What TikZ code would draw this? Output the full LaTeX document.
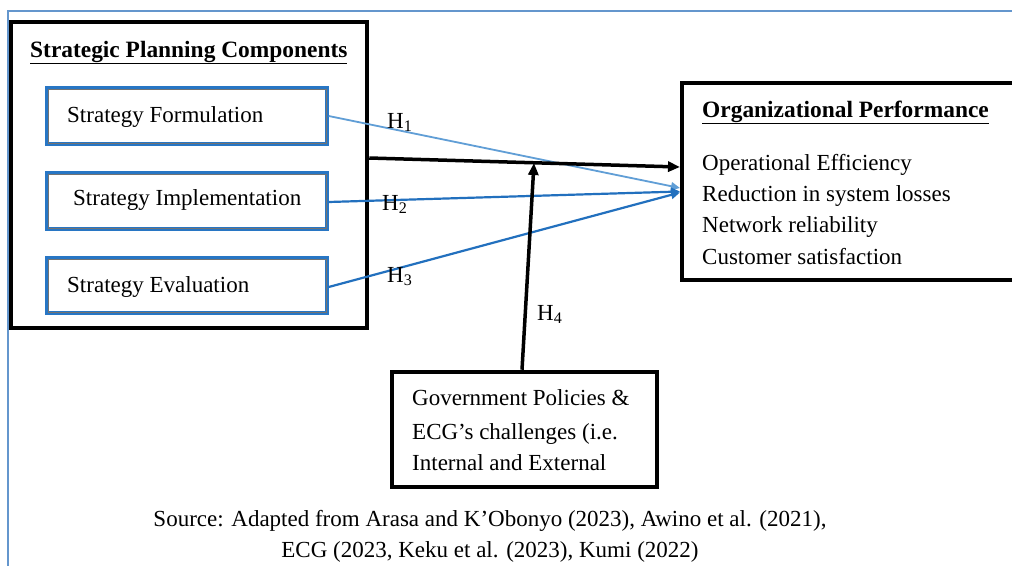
\documentclass[tikz,border=0pt]{standalone}
\usepackage{fontspec}
\setmainfont{Liberation Serif}
\usetikzlibrary{arrows.meta}
\definecolor{boxblue}{RGB}{40,118,196}
\definecolor{lightline}{RGB}{96,158,214}
\definecolor{darkline}{RGB}{34,112,190}
\definecolor{framebl}{RGB}{100,150,205}
\newcommand{\bodyfont}{\fontsize{23}{27}\selectfont}
\newcommand{\headfont}{\bfseries\fontsize{23.4}{27}\selectfont}
\tikzset{
  txt/.style={font=\bodyfont, inner sep=0pt, anchor=base west},
  head/.style={font=\headfont, inner sep=0pt, anchor=base west},
  bigbox/.style={draw=black, line width=4.5pt, inner sep=0pt},
  compbox/.style={draw=boxblue, line width=3.4pt, inner sep=0pt,
    minimum width=280pt, minimum height=56pt},
  blk/.style={line width=3.5pt, -{Triangle[length=12pt,width=10pt]}},
  blu/.style={line width=2.2pt, -{Triangle[length=9pt,width=8pt]}},
}
\begin{document}
\begin{tikzpicture}[x=1pt,y=-1pt]
\useasboundingbox (0,0) rectangle (1012,565);
\fill[white] (0,0) rectangle (1012,565);

% thin page frame
\draw[framebl, line width=1.3pt] (8,600) -- (8,11) -- (1030,11);

% strategic planning components
\node[bigbox, minimum width=356pt, minimum height=306pt] (spc) at (189,175) {};
\node[head] (spct) at (30,57) {\underline{Strategic Planning Components}};

\node[compbox] (sf) at (187,116) {};
\node[compbox] (si) at (187,201) {};
\node[compbox, minimum height=55pt] (se) at (187,285.5) {};
\foreach \b in {sf,si,se}{
  \draw[black!55, line width=0.6pt] ([shift={(2.6,2.6)}]\b.north west) rectangle ([shift={(-2.6,-2.6)}]\b.south east);
}
\node[txt] (sft) at (67,122) {Strategy Formulation};
\node[txt] (sit) at (73,205) {Strategy Implementation};
\node[txt] (set) at (67,292) {Strategy Evaluation};

% organizational performance
\node[bigbox, line width=4pt, minimum width=348pt, minimum height=197pt] (op) at (856,181.5) {};
\node[head] (opt) at (702,117) {\underline{Organizational Performance}};
\node[txt] (op1) at (702,170) {Operational Efficiency};
\node[txt] (op2) at (702,201) {Reduction in system losses};
\node[txt] (op3) at (702,232) {Network reliability};
\node[txt] (op4) at (702,264) {Customer satisfaction};

% moderating factors
\node[bigbox, minimum width=265pt, minimum height=115pt] (gov) at (524.5,429.5) {};
\node[txt] (g1) at (412,405) {Government Policies \&};
\node[txt] (g2) at (412,439) {ECG’s challenges (i.e.};
\node[txt] (g3) at (412,470) {Internal and External};

% source note
\node[font=\bodyfont, inner sep=0pt, anchor=base] (src1) at (490,526) {Source: Adapted from Arasa and K’Obonyo (2023), Awino et al. (2021),};
\node[font=\bodyfont, inner sep=0pt, anchor=base] (src2) at (490,557) {ECG (2023, Keku et al. (2023), Kumi (2022)};

% hypothesised paths
\draw[blu, draw=lightline, fill=lightline, line width=1.8pt] (sf.east) -- ([yshift=-6.5pt]op.west);
\draw[blu, draw=darkline, fill=darkline] ([yshift=-1pt]si.east) -- ([yshift=-10pt]op.west);
\draw[blu, draw=darkline, fill=darkline] ([yshift=-1.5pt]se.east) -- ([yshift=-11pt]op.west);

\draw[blk] ([yshift=17pt]spc.east) -- ([yshift=14.5pt]op.west);
\coordinate (m) at (534,163);
\draw[blk] ([xshift=-2.5pt]gov.north) -- (m);

\node[txt] (h1) at (387,128) {H\textsubscript{1}};
\node[txt] (h2) at (382,210) {H\textsubscript{2}};
\node[txt] (h3) at (387,282) {H\textsubscript{3}};
\node[txt] (h4) at (537,320) {H\textsubscript{4}};
\end{tikzpicture}
\end{document}
